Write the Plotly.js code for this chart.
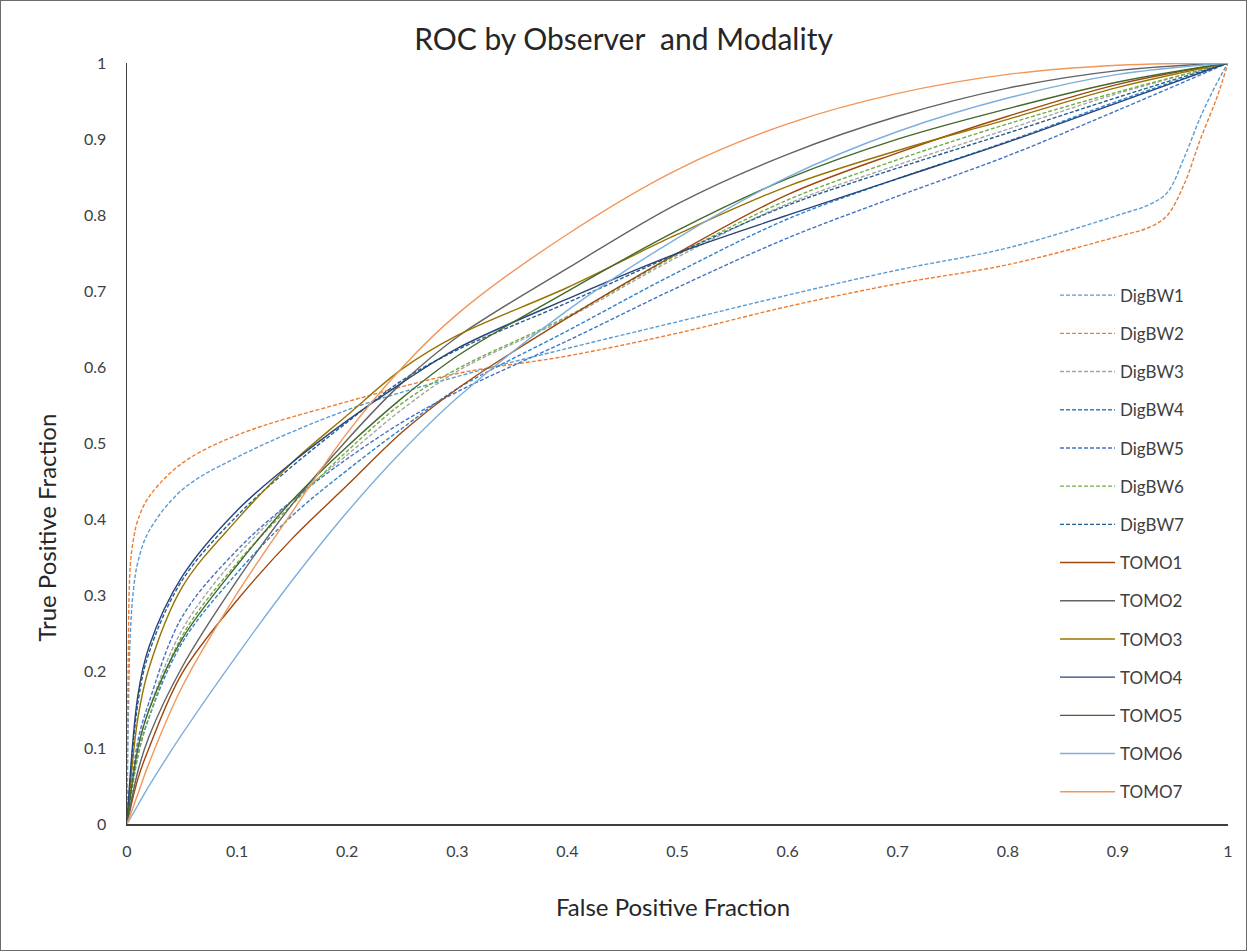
<!DOCTYPE html>
<html>
<head>
<meta charset="utf-8">
<script src="https://cdn.plot.ly/plotly-3.0.1.min.js"></script>
<style>
  html, body { margin: 0; padding: 0; background: #ffffff; }
  #chart { position: absolute; left: 0; top: 0; width: 1247px; height: 951px; }
  #frame { position: absolute; left: 0; top: 0; width: 1245px; height: 949px; border: 1px solid #6b6b6b; pointer-events: none; }
</style>
</head>
<body>
<div id="chart"></div>
<div id="frame"></div>
<script>
// Shared false-positive-fraction grid (most curves)
const fpf = [0, 0.01, 0.02, 0.05, 0.1, 0.15, 0.2, 0.25, 0.3, 0.4, 0.5, 0.6, 0.7, 0.8, 0.9, 1];
// Finer grid for DigBW1 / DigBW2 (sharp start and kink at the end)
const fpfFine = [0, 0.001, 0.003, 0.006, 0.01, 0.02, 0.05, 0.1, 0.2, 0.3, 0.4, 0.5, 0.6, 0.7, 0.8, 0.9, 0.93, 0.945, 0.96, 0.975, 0.99, 1];

const digBW1 = [0, 0.12, 0.25, 0.31, 0.345, 0.385, 0.439, 0.482, 0.544, 0.588, 0.625, 0.66, 0.695, 0.728, 0.757, 0.80, 0.815, 0.83, 0.875, 0.929, 0.974, 1];
const digBW2 = [0, 0.2, 0.34, 0.375, 0.40, 0.43, 0.474, 0.511, 0.555, 0.592, 0.615, 0.645, 0.68, 0.71, 0.735, 0.772, 0.785, 0.80, 0.84, 0.90, 0.955, 1];
const digBW3 = [0, 0.10, 0.15, 0.255, 0.352, 0.425, 0.485, 0.545, 0.595, 0.665, 0.745, 0.815, 0.866, 0.913, 0.96, 1];
const digBW4 = [0, 0.09, 0.14, 0.238, 0.33, 0.405, 0.465, 0.52, 0.572, 0.648, 0.725, 0.795, 0.848, 0.897, 0.95, 1];
const digBW5 = [0, 0.11, 0.16, 0.272, 0.36, 0.425, 0.48, 0.528, 0.568, 0.635, 0.705, 0.77, 0.825, 0.878, 0.938, 1];
const digBW6 = [0, 0.09, 0.14, 0.247, 0.343, 0.42, 0.49, 0.553, 0.598, 0.667, 0.748, 0.82, 0.873, 0.92, 0.962, 1];
const digBW7 = [0, 0.16, 0.225, 0.32, 0.405, 0.47, 0.528, 0.583, 0.623, 0.685, 0.75, 0.813, 0.862, 0.908, 0.955, 1];
const tomo1 = [0, 0.06, 0.10, 0.198, 0.294, 0.375, 0.445, 0.515, 0.572, 0.665, 0.75, 0.827, 0.882, 0.93, 0.972, 1];
const tomo2 = [0, 0.07, 0.115, 0.206, 0.32, 0.42, 0.505, 0.58, 0.64, 0.73, 0.815, 0.88, 0.93, 0.967, 0.99, 1];
const tomo3 = [0, 0.14, 0.205, 0.311, 0.40, 0.475, 0.537, 0.598, 0.642, 0.705, 0.775, 0.838, 0.885, 0.926, 0.968, 1];
const tomo4 = [0, 0.17, 0.233, 0.325, 0.412, 0.475, 0.53, 0.58, 0.625, 0.69, 0.75, 0.80, 0.848, 0.896, 0.948, 1];
const tomo5 = [0, 0.10, 0.15, 0.243, 0.34, 0.425, 0.496, 0.56, 0.615, 0.70, 0.78, 0.848, 0.90, 0.94, 0.975, 1];
const tomo6 = [0, 0.025, 0.05, 0.118, 0.222, 0.32, 0.41, 0.49, 0.56, 0.675, 0.77, 0.85, 0.91, 0.954, 0.985, 1];
const tomo7 = [0, 0.04, 0.08, 0.18, 0.303, 0.41, 0.514, 0.60, 0.67, 0.775, 0.86, 0.92, 0.96, 0.985, 0.997, 1];

const seriesNames = ['DigBW1','DigBW2','DigBW3','DigBW4','DigBW5','DigBW6','DigBW7','TOMO1','TOMO2','TOMO3','TOMO4','TOMO5','TOMO6','TOMO7'];
const seriesY = [digBW1, digBW2, digBW3, digBW4, digBW5, digBW6, digBW7, tomo1, tomo2, tomo3, tomo4, tomo5, tomo6, tomo7];
const seriesX = [fpfFine, fpfFine, fpf, fpf, fpf, fpf, fpf, fpf, fpf, fpf, fpf, fpf, fpf, fpf];
const colors = ['#5B9BD5','#ED7D31','#A5A5A5','#2E80CC','#4472C4','#70AD47','#255E91','#9E480E','#636363','#997300','#264478','#43682B','#7CAFDD','#F1975A'];
const dashed = [true,true,true,true,true,true,true,false,false,false,false,false,false,false];

const FONT = 'Lato, "Open Sans", "Liberation Sans", sans-serif';

const traces = seriesNames.map((name, i) => ({
  type: 'scatter',
  mode: 'lines',
  name: name,
  x: seriesX[i],
  y: seriesY[i],
  legendgroup: name,
  line: { color: colors[i], width: 1.4, shape: 'spline', smoothing: 1, dash: dashed[i] ? '4px,2px' : 'solid' },
  hoverinfo: 'x+y+name'
}));

const layout = {
  width: 1247,
  height: 951,
  paper_bgcolor: '#ffffff',
  plot_bgcolor: '#ffffff',
  margin: { l: 127, r: 19, t: 63, b: 127 },
  title: {
    text: 'ROC by Observer&nbsp; and Modality',
    font: { family: FONT, size: 30, color: '#262626' },
    x: 0.5, xanchor: 'center', y: 0.958, yanchor: 'middle'
  },
  showlegend: true,
  legend: {
    x: 0.8429, xanchor: 'left',
    y: 0.718, yanchor: 'top',
    font: { family: FONT, size: 17, color: '#404040' },
    bgcolor: 'rgba(255,255,255,0)',
    traceorder: 'grouped',
    tracegroupgap: 13.1,
    itemwidth: 55
  },
  xaxis: {
    range: [0, 1],
    dtick: 0.1,
    tick0: 0,
    showgrid: false,
    zeroline: false,
    showline: true,
    linecolor: '#3f3f3f',
    linewidth: 1.5,
    ticks: 'outside',
    ticklen: 12,
    tickcolor: 'rgba(0,0,0,0)',
    tickfont: { family: FONT, size: 16, color: '#404040' },
    fixedrange: true
  },
  yaxis: {
    range: [0, 1],
    dtick: 0.1,
    tick0: 0,
    showgrid: false,
    zeroline: false,
    showline: true,
    linecolor: '#3f3f3f',
    linewidth: 1.5,
    ticks: 'outside',
    ticklen: 16,
    tickcolor: 'rgba(0,0,0,0)',
    tickfont: { family: FONT, size: 16, color: '#404040' },
    fixedrange: true
  },
  annotations: [
    {
      text: 'False Positive Fraction',
      xref: 'paper', yref: 'paper',
      x: 0.496, y: -0.108, xanchor: 'center', yanchor: 'middle',
      showarrow: false,
      font: { family: FONT, size: 24, color: '#262626' }
    },
    {
      text: 'True Positive Fraction',
      xref: 'paper', yref: 'paper',
      x: -0.073, y: 0.389, xanchor: 'center', yanchor: 'middle',
      textangle: -90,
      showarrow: false,
      font: { family: FONT, size: 24, color: '#262626' }
    }
  ]
};

Plotly.newPlot('chart', traces, layout, { displayModeBar: false, staticPlot: true });
</script>
</body>
</html>
